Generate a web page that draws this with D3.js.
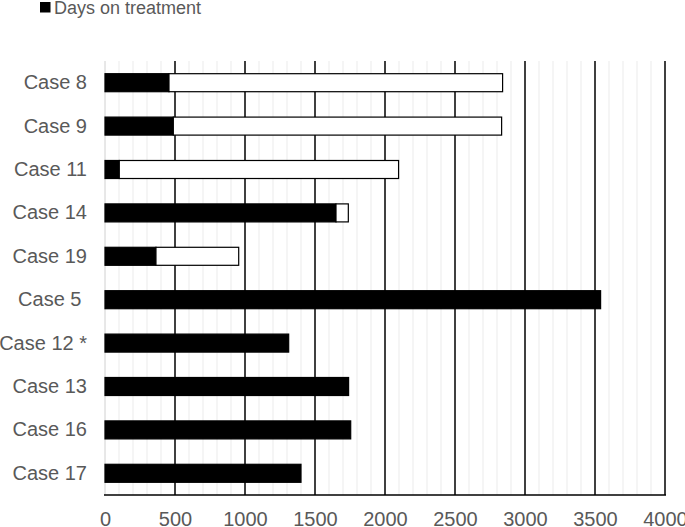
<!DOCTYPE html>
<html>
<head>
    <title>Days on treatment</title>
    <script src="https://d3js.org/d3.v7.min.js"></script>
    <style>
        body { margin: 0; background: #fff; }
        text { font-family: "Liberation Sans", Arial, sans-serif; fill: #595959; }
    </style>
</head>
<body>
    <svg id="chart" width="685" height="527"></svg>

    <script>
        // categories, top to bottom
        var cases = ["Case 8", "Case 9", "Case 11", "Case 14", "Case 19", "Case 5 ", "Case 12 *", "Case 13", "Case 16", "Case 17"];
        // black part: days on treatment
        var daysOnTreatment = [457, 488, 102, 1650, 364, 3540, 1312, 1740, 1755, 1400];
        // white part: remaining days after treatment stopped
        var daysAfter = [2383, 2345, 1995, 88, 591, 0, 0, 0, 0, 0];
        var xTicks = [0, 500, 1000, 1500, 2000, 2500, 3000, 3500, 4000];

        var svg = d3.select("#chart");
        var plotLeft = 105, plotRight = 665, plotTop = 61, plotBottom = 495;

        var x = d3.scaleLinear().domain([0, 4000]).range([plotLeft, plotRight]);
        var y = d3.scaleBand().domain(cases).range([plotTop, plotBottom])
            .paddingInner(0.585).paddingOuter(0.2925);

        // minor grid every 100 days
        var minor = d3.range(0, 4001, 100).filter(function(d) { return d % 500 !== 0; });
        svg.append("g").selectAll("line").data(minor).join("line")
            .attr("x1", d => x(d)).attr("x2", d => x(d))
            .attr("y1", plotTop).attr("y2", plotBottom)
            .attr("stroke", "#ebebeb").attr("stroke-width", 1);

        // major grid
        svg.append("g").selectAll("line").data(xTicks.slice(1)).join("line")
            .attr("x1", d => x(d)).attr("x2", d => x(d))
            .attr("y1", plotTop).attr("y2", plotBottom)
            .attr("stroke", "#000").attr("stroke-width", 1.5);

        // left axis line (light)
        svg.append("line")
            .attr("x1", x(0)).attr("x2", x(0)).attr("y1", plotTop).attr("y2", plotBottom)
            .attr("stroke", "#d0d0d0").attr("stroke-width", 1);

        // stacked bars
        var rows = cases.map(function(c, i) {
            return { name: c, treat: daysOnTreatment[i], after: daysAfter[i] };
        });
        var series = d3.stack().keys(["treat", "after"])(rows);
        var fills = { treat: "#000", after: "#fff" };

        svg.append("g").selectAll("g").data(series).join("g")
            .attr("fill", d => fills[d.key])
            .selectAll("rect").data(d => d.filter(p => p[1] > p[0])).join("rect")
            .attr("x", d => x(d[0]))
            .attr("y", d => y(d.data.name))
            .attr("width", d => x(d[1]) - x(d[0]))
            .attr("height", y.bandwidth())
            .attr("stroke", "#000")
            .attr("stroke-width", 1.2);

        // bottom axis line
        svg.append("line")
            .attr("x1", x(0) - 1).attr("x2", x(4000) + 1).attr("y1", plotBottom).attr("y2", plotBottom)
            .attr("stroke", "#000").attr("stroke-width", 1.5);

        // x tick labels
        var xAxis = svg.append("g")
            .attr("transform", "translate(0," + plotBottom + ")")
            .call(d3.axisBottom(x).tickValues(xTicks).tickSize(0).tickPadding(16.5).tickFormat(d3.format("d")));
        xAxis.select(".domain").remove();
        xAxis.selectAll("text")
            .style("font-size", "20px")
            .style("font-family", "'Liberation Sans', Arial, sans-serif")
            .attr("fill", "#595959");

        // category labels
        var yAxis = svg.append("g")
            .attr("transform", "translate(" + (plotLeft - 18) + ",0)")
            .call(d3.axisLeft(y).tickSize(0).tickPadding(0));
        yAxis.select(".domain").remove();
        yAxis.selectAll("text")
            .style("font-size", "20px")
            .style("font-family", "'Liberation Sans', Arial, sans-serif")
            .style("white-space", "pre")
            .attr("fill", "#595959");

        // legend
        var legend = svg.append("g");
        legend.append("rect")
            .attr("x", 40).attr("y", 2).attr("width", 10.5).attr("height", 10.5)
            .attr("fill", "#000");
        legend.append("text")
            .attr("x", 54).attr("y", 13.5)
            .style("font-size", "18px")
            .text("Days on treatment");
    </script>
</body>
</html>
